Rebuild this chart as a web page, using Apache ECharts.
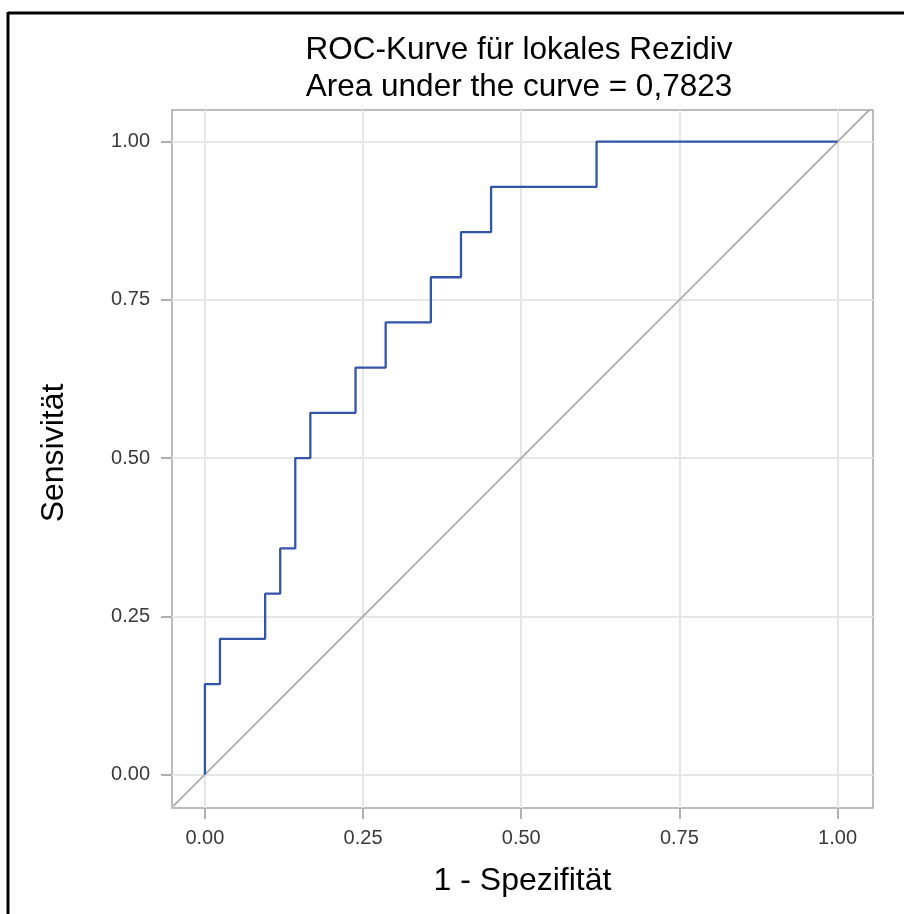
<!DOCTYPE html>
<html>
<head>
<meta charset="utf-8">
<style>
  html, body { margin: 0; padding: 0; background: #fff; }
  #chart { width: 904px; height: 914px; }
</style>
<script src="https://cdn.jsdelivr.net/npm/echarts@6/dist/echarts.min.js"></script>
</head>
<body>
<div id="chart"></div>
<script>
// ROC curve for local recurrence: false positive rate (1 - specificity) vs. sensitivity
const fpr = [0, 0, 1/42, 1/42, 4/42, 4/42, 5/42, 5/42, 6/42, 6/42, 7/42, 7/42,
             10/42, 10/42, 12/42, 12/42, 15/42, 15/42, 17/42, 17/42, 19/42, 19/42,
             26/42, 26/42, 1];
const tpr = [0, 2/14, 2/14, 3/14, 3/14, 4/14, 4/14, 5/14, 5/14, 7/14, 7/14, 8/14,
             8/14, 9/14, 9/14, 10/14, 10/14, 11/14, 11/14, 12/14, 12/14, 13/14,
             13/14, 1, 1];
// chance line corner to corner
const chanceX = [-0.05, 1.06];
const chanceY = [-0.05, 1.06];
const tickValues = [0, 0.25, 0.5, 0.75, 1];
const auc = '0,7823';

const rocData = fpr.map((x, i) => [x, tpr[i]]);
const chanceData = chanceX.map((x, i) => [x, chanceY[i]]);

const FONT = 'Liberation Sans, Arial, sans-serif';

const chart = echarts.init(document.getElementById('chart'), null, { renderer: 'canvas' });

const tickLabel = {
  customValues: tickValues,
  formatter: v => v.toFixed(2),
  color: '#3a3a3a',
  fontFamily: FONT,
  fontSize: 20
};
const tickStyle = { show: true, customValues: tickValues, length: 11, lineStyle: { color: '#b0b0b0', width: 2 } };
const gridLine = { show: true, lineStyle: { color: '#e6e6e6', width: 2 } };

chart.setOption({
  animation: false,
  backgroundColor: '#fff',
  title: {
    text: 'ROC-Kurve für lokales Rezidiv\nArea under the curve = ' + auc,
    left: 514,
    textAlign: 'center',
    top: 27,
    textStyle: {
      fontFamily: FONT,
      fontSize: 31.5,
      fontWeight: 'normal',
      color: '#000',
      lineHeight: 37
    }
  },
  graphic: [
    { type: 'line', shape: { x1: 8, y1: 13, x2: 904, y2: 13 }, style: { stroke: '#000', lineWidth: 3 } },
    { type: 'line', shape: { x1: 8, y1: 12, x2: 8, y2: 914 }, style: { stroke: '#000', lineWidth: 3 } }
  ],
  grid: {
    left: 172, right: 31, top: 110, bottom: 106,
    show: true,
    borderColor: '#a6a6a6',
    borderWidth: 1.5,
    backgroundColor: 'transparent'
  },
  xAxis: {
    type: 'value',
    min: -0.052, max: 1.056,
    name: '1 - Spezifität',
    nameLocation: 'middle',
    nameGap: 57,
    nameTextStyle: { fontFamily: FONT, fontSize: 32, color: '#000' },
    axisLine: { show: false, onZero: false },
    axisTick: tickStyle,
    axisLabel: Object.assign({ margin: 20 }, tickLabel),
    splitLine: gridLine
  },
  yAxis: {
    type: 'value',
    min: -0.053, max: 1.05,
    name: 'Sensivität',
    nameLocation: 'middle',
    nameGap: 102,
    nameTextStyle: { fontFamily: FONT, fontSize: 32, color: '#000', padding: [0, 0, 0, 12] },
    axisLine: { show: false, onZero: false },
    axisTick: tickStyle,
    axisLabel: Object.assign({ margin: 22 }, tickLabel),
    splitLine: gridLine
  },
  series: [
    {
      type: 'line',
      data: chanceData,
      symbol: 'none',
      clip: true,
      lineStyle: { color: '#acacac', width: 1.8 },
      z: 2
    },
    {
      type: 'line',
      data: rocData,
      symbol: 'none',
      lineStyle: { color: '#3454aa', width: 2.3 },
      z: 3
    }
  ]
});
</script>
</body>
</html>
